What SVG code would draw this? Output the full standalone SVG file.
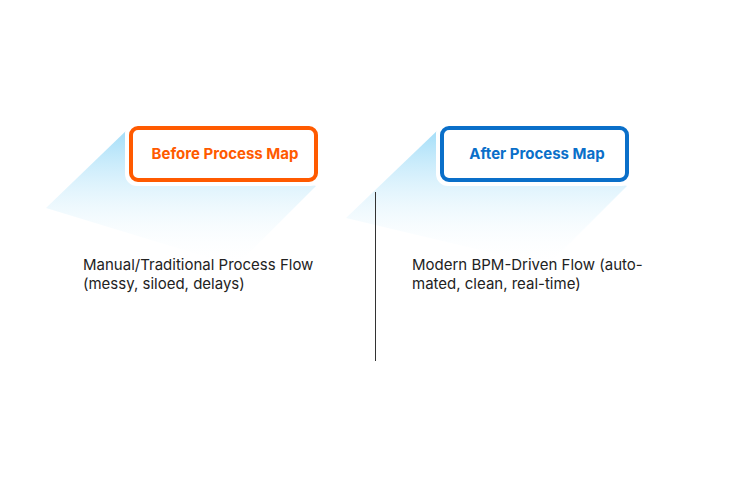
<svg xmlns="http://www.w3.org/2000/svg" width="750" height="500" viewBox="0 0 750 500">
<defs>
<linearGradient id="sh" x1="0" y1="0" x2="0" y2="1">
<stop offset="0" stop-color="#9fdcf8"/><stop offset="1" stop-color="#ffffff" stop-opacity="0"/>
</linearGradient>
<style>
.t{font-family:Inter,"Noto Sans",sans-serif;font-size:15px;fill:#222}
.h{font-family:Inter,"Noto Sans",sans-serif;font-size:15px;font-weight:700;text-anchor:middle}
</style>
</defs>
<rect width="750" height="500" fill="#fff"/>
<g id="before">
<polygon points="130,127 316,186 236,266 46,208" fill="url(#sh)"/>
<rect x="129" y="126" width="189" height="56" rx="8" fill="#fff" stroke="#fff" stroke-width="8"/>
<rect x="131" y="128" width="185" height="52" rx="7" fill="#fff" stroke="#ff5a00" stroke-width="4"/>
<text class="h" x="225" y="159" fill="#ff5a00">Before Process Map</text>
</g>
<g id="after">
<polygon points="441,127 627,186 547,266 346,218" fill="url(#sh)"/>
<rect x="440" y="126" width="189" height="56" rx="8" fill="#fff" stroke="#fff" stroke-width="8"/>
<rect x="442" y="128" width="185" height="52" rx="7" fill="#fff" stroke="#0a6fc9" stroke-width="4"/>
<text class="h" x="537" y="159" fill="#0a6fc9">After Process Map</text>
</g>
<g id="connectors"><line x1="375.5" y1="192" x2="375.5" y2="361" stroke="#333" stroke-width="1"/></g>
<text class="t" x="83" y="270">Manual/Traditional Process Flow</text>
<text class="t" x="83" y="289">(messy, siloed, delays)</text>
<text class="t" x="412" y="270">Modern BPM-Driven Flow (auto-</text>
<text class="t" x="412" y="289">mated, clean, real-time)</text>
</svg>
